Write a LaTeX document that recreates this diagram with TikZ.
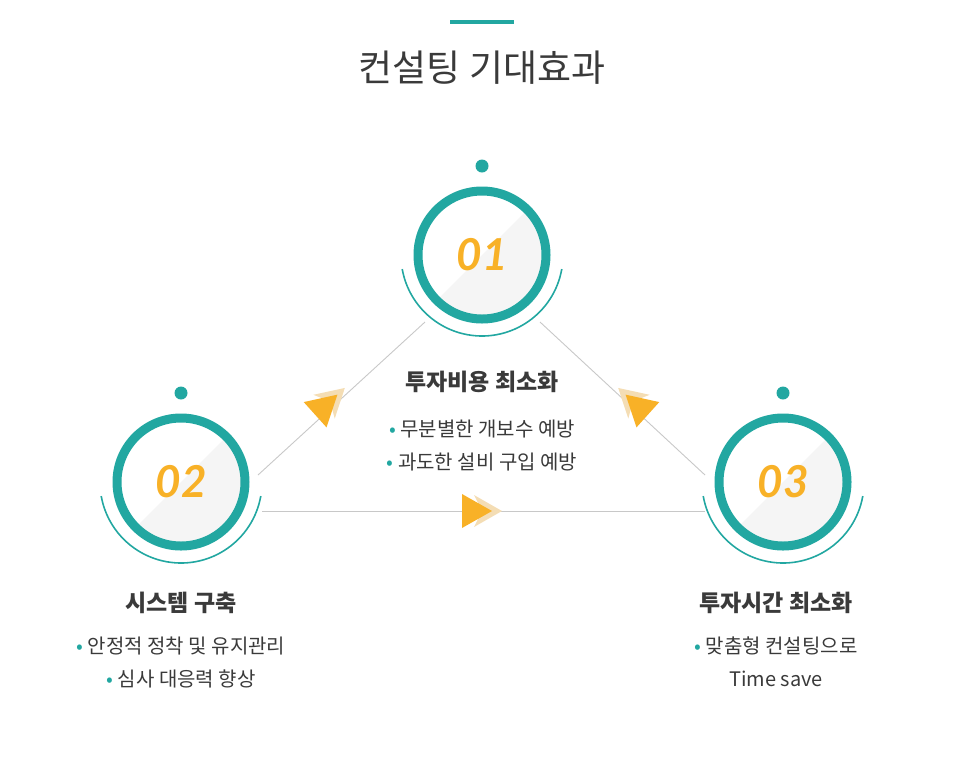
\documentclass[tikz,border=0pt]{standalone}
\usepackage{fontspec}
\setmainfont{Noto Sans CJK KR}
\newfontfamily\numfont{Lato}
\usetikzlibrary{calc}
\definecolor{tealc}{HTML}{22A7A1}
\definecolor{orangec}{HTML}{F8B127}
\definecolor{paleorange}{HTML}{F4DDB4}
\definecolor{textc}{HTML}{3A3A3A}
\definecolor{linec}{HTML}{C8C8C8}
\tikzset{
  dotmark/.style={circle, fill=tealc, inner sep=0pt, minimum size=13pt},
  numtext/.style={font=\numfont\fontsize{44}{44}\selectfont\bfseries\itshape, text=orangec},
  headtext/.style={font=\fontsize{23}{26}\selectfont\bfseries, text=textc},
  itemtext/.style={font=\fontsize{20}{24}\selectfont, text=textc, align=center},
  link/.style={draw=linec, line width=0.9pt}
}
\newcommand{\bul}{{\color{tealc}\textbullet}\ }
% double arrow head: position, angle
\newcommand{\flowarrow}[2]{%
  \begin{scope}[shift={#1}, rotate=#2]
    \fill[paleorange] (-4,-16) -- (24,0) -- (-4,16) -- (4,0) -- cycle;
    \fill[orangec] (-16,-17) -- (14,0) -- (-16,17) -- cycle;
  \end{scope}}
% circle with number
\newcommand{\stepcircle}[3]{%
  \begin{scope}
    \clip (#1) circle (64);
    \fill[white] (#1) circle (64);
    \fill[black!4] ($(#1)+(-80,80)$) -- ($(#1)+(80,-80)$) -- ($(#1)+(80,80)$) -- cycle;
  \end{scope}
  \draw[draw=tealc, line width=9pt] (#1) circle (64);
  \draw[tealc, line width=1.6pt] ($(#1)+(10:81)$) arc (10:170:81);
  \node[dotmark] at ($(#1)+(0,-89)$) {};
  \node[numtext] (#2) at (#1) {#3};}
\begin{document}
\begin{tikzpicture}[x=1pt, y=-1pt]
  \useasboundingbox (0,0) rectangle (966,756);

  % title
  \draw[tealc, line width=3.5pt] (450,22) -- (514,22);
  \node[font=\fontsize{37}{40}\selectfont, text=textc] (title) at (482,68) {컨설팅 기대효과};

  % connectors
  \coordinate (a1) at (425,322); \coordinate (a2) at (258,475);
  \coordinate (b1) at (540,322); \coordinate (b2) at (705,475);
  \coordinate (c1) at (262,511); \coordinate (c2) at (705,511);
  \draw[link] (a2) -- (a1);
  \draw[link] (b2) -- (b1);
  \draw[link] (c1) -- (c2);
  \flowarrow{(478,511)}{0}
  \flowarrow{(327,404)}{42}
  \flowarrow{(636,404)}{138}

  % circles
  \stepcircle{482,255}{n1}{01}
  \stepcircle{181,482}{n2}{02}
  \stepcircle{783,482}{n3}{03}

  % texts
  \node[headtext] (h1) at (482,382) {투자비용 최소화};
  \node[itemtext] (t1) at (482,429) {\bul 무분별한 개보수 예방};
  \node[itemtext] (t1b) at (482,462) {\bul 과도한 설비 구입 예방};

  \node[headtext] (h2) at (181,603) {시스템 구축};
  \node[itemtext] (t2) at (181,646) {\bul 안정적 정착 및 유지관리};
  \node[itemtext] (t2b) at (181,679) {\bul 심사 대응력 향상};

  \node[headtext] (h3) at (776,603) {투자시간 최소화};
  \node[itemtext] (t3) at (776,646) {\bul 맞춤형 컨설팅으로};
  \node[itemtext] (t3b) at (776,679) {Time save};
\end{tikzpicture}
\end{document}
